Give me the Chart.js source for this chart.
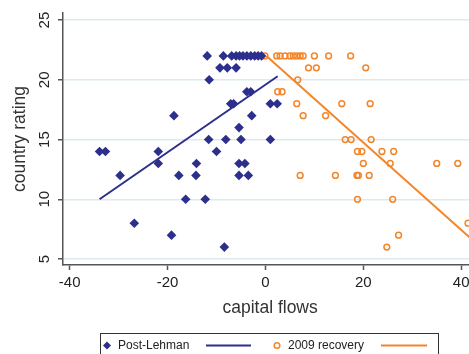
<!DOCTYPE html>
<html><head><meta charset="utf-8">
<script src="https://cdn.jsdelivr.net/npm/chart.js@4.4.1/dist/chart.umd.min.js"></script>
<style>html,body{margin:0;padding:0;overflow:hidden;background:#fff;width:469px;height:354px}canvas{display:block}</style>
</head><body>
<canvas id="c" width="482" height="354" style="width:482px;height:354px"></canvas>
<script>
const xTicks = [-40, -20, 0, 20, 40];
const yTicks = [5, 10, 15, 20, 25];
const seriesNames = ['Post-Lehman', '2009 recovery'];
const xTitle = 'capital flows';
const yTitle = 'country rating';

const postLehmanX = [-11.9, -8.6, -6.9, -6.0, -5.3, -4.6, -3.8, -3.0, -2.2, -1.5, -0.8,
  -9.3, -7.8, -6.0,
  -11.5,
  -3.8, -3.0,
  -7.1, -6.5, 1.0, 2.4,
  -18.7, -2.8,
  -5.4,
  -11.6, -8.1, -5.0, 1.0,
  -33.9, -32.7, -21.9, -10.0,
  -21.9, -14.1, -5.4, -4.2,
  -29.7, -17.7, -14.2, -5.4, -3.5,
  -16.3, -12.3,
  -26.8,
  -19.2,
  -8.4];
const postLehmanY = [22, 22, 22, 22, 22, 22, 22, 22, 22, 22, 22,
  21, 21, 21,
  20,
  19, 19,
  18, 18, 18, 18,
  17, 17,
  16,
  15, 15, 15, 15,
  14, 14, 14, 14,
  13, 13, 13, 13,
  12, 12, 12, 12, 12,
  10, 10,
  8,
  7,
  6];

const recoveryX = [-0.1, 2.3, 3.0, 4.0, 5.0, 5.7, 6.4, 7.1, 7.7, 10.0, 12.9, 17.4,
  8.8, 10.4, 20.5,
  6.6,
  2.5, 3.4,
  6.4, 15.6, 21.4,
  7.7, 12.3,
  16.3, 17.5, 21.6,
  18.8, 19.7, 23.8, 26.2,
  20.0, 25.5, 35.0, 39.3,
  7.1, 14.3, 18.7, 19.0, 21.2,
  18.8, 26.0,
  41.4,
  27.2,
  24.8];
const recoveryY = [22, 22, 22, 22, 22, 22, 22, 22, 22, 22, 22, 22,
  21, 21, 21,
  20,
  19, 19,
  18, 18, 18,
  17, 17,
  15, 15, 15,
  14, 14, 14, 14,
  13, 13, 13, 13,
  12, 12, 12, 12, 12,
  10, 10,
  8,
  7,
  6];

const postLehmanFitX = [-33.9, 2.5];
const postLehmanFitY = [10.0, 20.3];
const recoveryFitX = [0.2, 43.0];
const recoveryFitY = [22.0, 6.34];

const BLUE = '#2c2f8c';
const ORANGE = '#f4862a';
const FONT = '"Liberation Sans", Arial, sans-serif';

const pts = (xs, ys) => xs.map((x, i) => ({x: x, y: ys[i]}));

const legendPlugin = {
  id: 'statLegend',
  afterDraw(chart) {
    const ctx = chart.ctx;
    ctx.save();
    ctx.strokeStyle = '#333';
    ctx.lineWidth = 1;
    ctx.strokeRect(100.5, 333.5, 338, 40);
    const cy = 345.5;
    ctx.fillStyle = BLUE;
    ctx.beginPath();
    ctx.moveTo(107, cy - 4); ctx.lineTo(111, cy); ctx.lineTo(107, cy + 4); ctx.lineTo(103, cy); ctx.closePath();
    ctx.fill();
    ctx.font = '12px ' + FONT;
    ctx.fillStyle = '#222';
    ctx.textBaseline = 'middle';
    ctx.textAlign = 'left';
    ctx.fillText(seriesNames[0], 118, cy);
    ctx.strokeStyle = BLUE; ctx.lineWidth = 2;
    ctx.beginPath(); ctx.moveTo(206, cy); ctx.lineTo(251, cy); ctx.stroke();
    ctx.strokeStyle = ORANGE; ctx.lineWidth = 1.5;
    ctx.beginPath(); ctx.arc(277, cy, 2.8, 0, Math.PI * 2); ctx.stroke();
    ctx.fillStyle = '#222';
    ctx.fillText(seriesNames[1], 288, cy);
    ctx.strokeStyle = ORANGE; ctx.lineWidth = 2;
    ctx.beginPath(); ctx.moveTo(381, cy); ctx.lineTo(427, cy); ctx.stroke();
    ctx.restore();
  }
};

new Chart(document.getElementById('c'), {
  type: 'scatter',
  data: {
    datasets: [
      {label: seriesNames[0], data: pts(postLehmanX, postLehmanY), pointStyle: 'rectRot', pointRadius: 4.8, pointHoverRadius: 4.8, backgroundColor: BLUE, borderWidth: 0, borderColor: BLUE},
      {label: '', data: pts(postLehmanFitX, postLehmanFitY), showLine: true, pointRadius: 0, borderColor: BLUE, borderWidth: 2, fill: false},
      {label: seriesNames[1], data: pts(recoveryX, recoveryY), pointStyle: 'circle', pointRadius: 2.9, pointHoverRadius: 2.9, backgroundColor: 'rgba(0,0,0,0)', borderColor: ORANGE, borderWidth: 1.5},
      {label: '', data: pts(recoveryFitX, recoveryFitY), showLine: true, pointRadius: 0, borderColor: ORANGE, borderWidth: 2, fill: false}
    ]
  },
  options: {
    responsive: false,
    animation: false,
    devicePixelRatio: 1,
    layout: {padding: {top: 13, bottom: 24, left: 0, right: 0}},
    plugins: {legend: {display: false}, tooltip: {enabled: false}},
    scales: {
      x: {
        type: 'linear', min: -41.37, max: 43.27,
        afterBuildTicks: s => { s.ticks = xTicks.map(v => ({value: v})); },
        afterFit: s => { s.height = 65; s.paddingLeft = 0; s.paddingRight = 0; },
        ticks: {font: {family: FONT, size: 15}, color: '#222', padding: 4, maxRotation: 0, minRotation: 0},
        grid: {drawOnChartArea: false, drawTicks: true, tickLength: 5, tickColor: '#555', tickWidth: 1.5},
        border: {display: true, color: '#555', width: 1.5},
        title: {display: true, text: xTitle, font: {family: FONT, size: 17.5}, color: '#333', padding: {top: 0, bottom: 11.5}}
      },
      y: {
        type: 'linear', min: 4.5, max: 25.59,
        afterBuildTicks: s => { s.ticks = yTicks.map(v => ({value: v})); },
        afterFit: s => { s.width = 63; s.paddingTop = 0; s.paddingBottom = 0; },
        ticks: {font: {family: FONT, size: 15}, color: '#222', padding: 5, minRotation: 90, maxRotation: 90, crossAlign: 'center'},
        grid: {color: '#deebee', lineWidth: 1.5, drawTicks: true, tickLength: 5, tickColor: '#555', tickWidth: 1.5},
        border: {display: true, color: '#555', width: 1.5},
        title: {display: true, text: yTitle, font: {family: FONT, size: 17.5}, color: '#333', padding: {top: 10, bottom: 0}}
      }
    }
  },
  plugins: [legendPlugin]
});
</script>
</body></html>
